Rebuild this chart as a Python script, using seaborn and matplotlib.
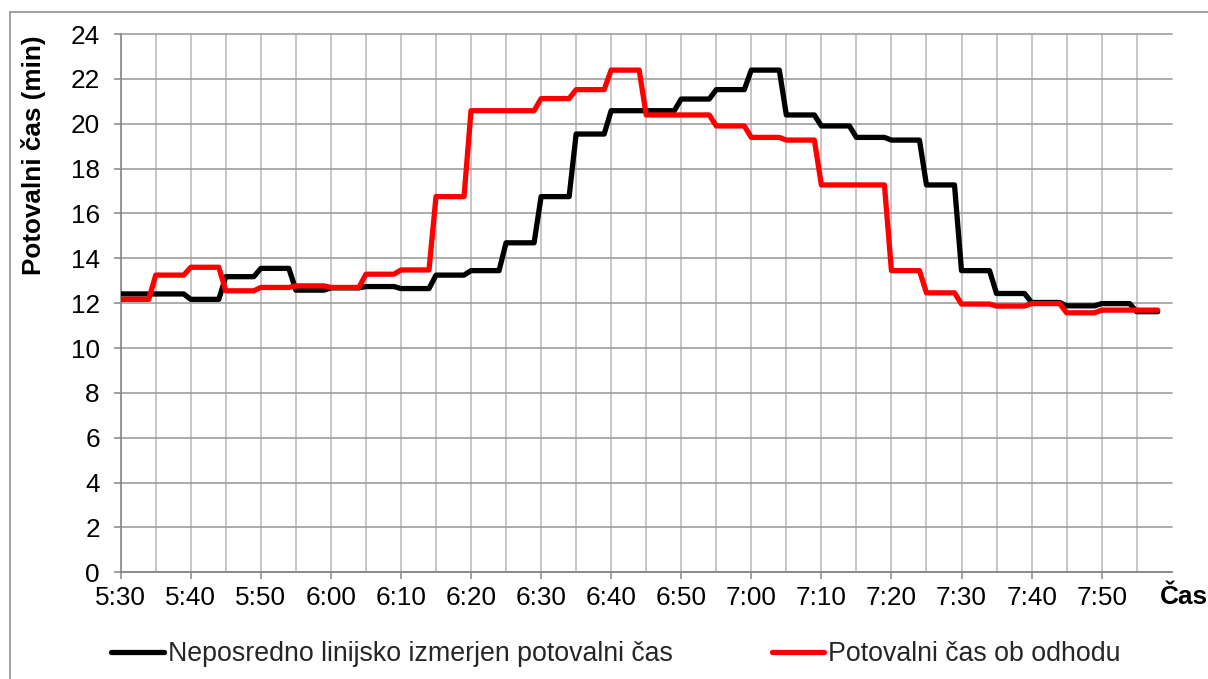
import matplotlib
matplotlib.use("Agg")
import matplotlib.pyplot as plt
import seaborn as sns
import pandas as pd
from matplotlib.patches import Rectangle
from matplotlib.lines import Line2D

sns.set_theme(style="white")
plt.rcParams['font.family'] = ['Liberation Sans', 'DejaVu Sans']

# ---- data (minutes after 5:30, one value per minute) ----
tick_labels = ["5:30", "5:40", "5:50", "6:00", "6:10", "6:20", "6:30", "6:40",
               "6:50", "7:00", "7:10", "7:20", "7:30", "7:40", "7:50"]
series_names = ["Neposredno linijsko izmerjen potovalni čas", "Potovalni čas ob odhodu"]
series_colors = ["#000000", "#ff0000"]

direct = [
    12.41, 12.41, 12.41, 12.41, 12.41,
    12.41, 12.41, 12.41, 12.41, 12.41,
    12.17, 12.17, 12.17, 12.17, 12.17,
    13.18, 13.18, 13.18, 13.18, 13.18,
    13.55, 13.55, 13.55, 13.55, 13.55,
    12.58, 12.58, 12.58, 12.58, 12.58,
    12.68, 12.68, 12.68, 12.68, 12.68,
    12.74, 12.74, 12.74, 12.74, 12.74,
    12.65, 12.65, 12.65, 12.65, 12.65,
    13.25, 13.25, 13.25, 13.25, 13.25,
    13.45, 13.45, 13.45, 13.45, 13.45,
    14.69, 14.69, 14.69, 14.69, 14.69,
    16.75, 16.75, 16.75, 16.75, 16.75,
    19.54, 19.54, 19.54, 19.54, 19.54,
    20.58, 20.58, 20.58, 20.58, 20.58,
    20.58, 20.58, 20.58, 20.58, 20.58,
    21.10, 21.10, 21.10, 21.10, 21.10,
    21.52, 21.52, 21.52, 21.52, 21.52,
    22.39, 22.39, 22.39, 22.39, 22.39,
    20.39, 20.39, 20.39, 20.39, 20.39,
    19.90, 19.90, 19.90, 19.90, 19.90,
    19.39, 19.39, 19.39, 19.39, 19.39,
    19.27, 19.27, 19.27, 19.27, 19.27,
    17.27, 17.27, 17.27, 17.27, 17.27,
    13.45, 13.45, 13.45, 13.45, 13.45,
    12.43, 12.43, 12.43, 12.43, 12.43,
    12.03, 12.03, 12.03, 12.03, 12.03,
    11.88, 11.88, 11.88, 11.88, 11.88,
    11.98, 11.98, 11.98, 11.98, 11.98,
    11.62, 11.62, 11.62, 11.62,
]

departure = [
    12.17, 12.17, 12.17, 12.17, 12.17,
    13.25, 13.25, 13.25, 13.25, 13.25,
    13.60, 13.60, 13.60, 13.60, 13.60,
    12.55, 12.55, 12.55, 12.55, 12.55,
    12.70, 12.70, 12.70, 12.70, 12.70,
    12.77, 12.77, 12.77, 12.77, 12.77,
    12.70, 12.70, 12.70, 12.70, 12.70,
    13.29, 13.29, 13.29, 13.29, 13.29,
    13.48, 13.48, 13.48, 13.48, 13.48,
    16.75, 16.75, 16.75, 16.75, 16.75,
    20.58, 20.58, 20.58, 20.58, 20.58,
    20.58, 20.58, 20.58, 20.58, 20.58,
    21.12, 21.12, 21.12, 21.12, 21.12,
    21.52, 21.52, 21.52, 21.52, 21.52,
    22.39, 22.39, 22.39, 22.39, 22.39,
    20.39, 20.39, 20.39, 20.39, 20.39,
    20.39, 20.39, 20.39, 20.39, 20.39,
    19.90, 19.90, 19.90, 19.90, 19.90,
    19.39, 19.39, 19.39, 19.39, 19.39,
    19.27, 19.27, 19.27, 19.27, 19.27,
    17.27, 17.27, 17.27, 17.27, 17.27,
    17.27, 17.27, 17.27, 17.27, 17.27,
    13.45, 13.45, 13.45, 13.45, 13.45,
    12.46, 12.46, 12.46, 12.46, 12.46,
    11.96, 11.96, 11.96, 11.96, 11.96,
    11.87, 11.87, 11.87, 11.87, 11.87,
    11.98, 11.98, 11.98, 11.98, 11.98,
    11.57, 11.57, 11.57, 11.57, 11.57,
    11.69, 11.69, 11.69, 11.69, 11.69,
    11.69, 11.69, 11.69, 11.69,
]

minutes = list(range(len(direct)))
df = pd.DataFrame({
    "minute": minutes + minutes,
    "value": direct + departure,
    "series": [series_names[0]] * len(direct) + [series_names[1]] * len(departure),
})

FS = 18.8
FS_LEG = 19.3
GRAY_AX = "#868686"
LW = 3.8

fig = plt.figure(figsize=(12.08, 6.79), dpi=100)
fig.patch.set_facecolor("white")
ax = fig.add_axes([120.7 / 1208, 1 - 572.3 / 679, (1171.7 - 120.7) / 1208, (572.3 - 34) / 679])

sns.lineplot(data=df, x="minute", y="value", hue="series", hue_order=series_names,
             palette=series_colors, linewidth=LW, ax=ax, legend=False,
             estimator=None, sort=False)
for ln in ax.lines:
    ln.set_solid_joinstyle("round")
    ln.set_solid_capstyle("round")
    ln.set_zorder(3)

ax.set_xlim(0, 150)
ax.set_ylim(0, 24)
ax.set_xticks(list(range(0, 150, 10)))
ax.set_xticklabels(tick_labels)
ax.set_xticks(list(range(5, 150, 10)), minor=True)
ax.set_yticks(list(range(0, 25, 2)))

ax.tick_params(axis="x", which="major", direction="out", length=5, width=1.1,
               color=GRAY_AX, labelsize=FS, pad=5, labelcolor="black", bottom=True)
ax.tick_params(axis="x", which="minor", length=0, bottom=False)
ax.tick_params(axis="y", which="major", direction="out", length=5, width=1.1,
               color=GRAY_AX, labelsize=FS, pad=10, labelcolor="black", left=True)

ax.grid(True, axis="x", which="both", color="#bcbcbc", linewidth=1.2, zorder=0)
ax.grid(True, axis="y", which="major", color="#9e9e9e", linewidth=1.2, zorder=0)
ax.set_axisbelow(True)
for gl in ax.get_ygridlines():
    gl.set_clip_on(False)

for side in ["top", "right"]:
    ax.spines[side].set_visible(False)
for side in ["left", "bottom"]:
    ax.spines[side].set_color(GRAY_AX)
    ax.spines[side].set_linewidth(1.2)

ax.set_xlabel("")
ax.set_ylabel("Potovalni čas (min)", fontsize=FS, fontweight="bold", color="black")
ax.yaxis.set_label_coords(-0.071, 0.775)

fig.text(1160 / 1208, 1 - 597 / 679, "Čas", fontsize=FS, fontweight="bold",
         ha="left", va="center", color="black")

handles = [Line2D([], [], color=c, linewidth=LW, solid_capstyle="round") for c in series_colors]
fig.legend(handles, series_names, loc="center", bbox_to_anchor=(616 / 1208, 1 - 654 / 679),
           ncol=2, frameon=False, fontsize=FS_LEG, handlelength=1.95, handletextpad=0.15,
           columnspacing=3.7)

fig.patches.append(Rectangle((9.5 / 1208, -0.2), 1.5, 0.2 + 1 - 11.5 / 679, fill=False,
                             edgecolor=GRAY_AX, linewidth=1.1, transform=fig.transFigure))

fig.savefig("out.png", dpi=100, facecolor="white")
